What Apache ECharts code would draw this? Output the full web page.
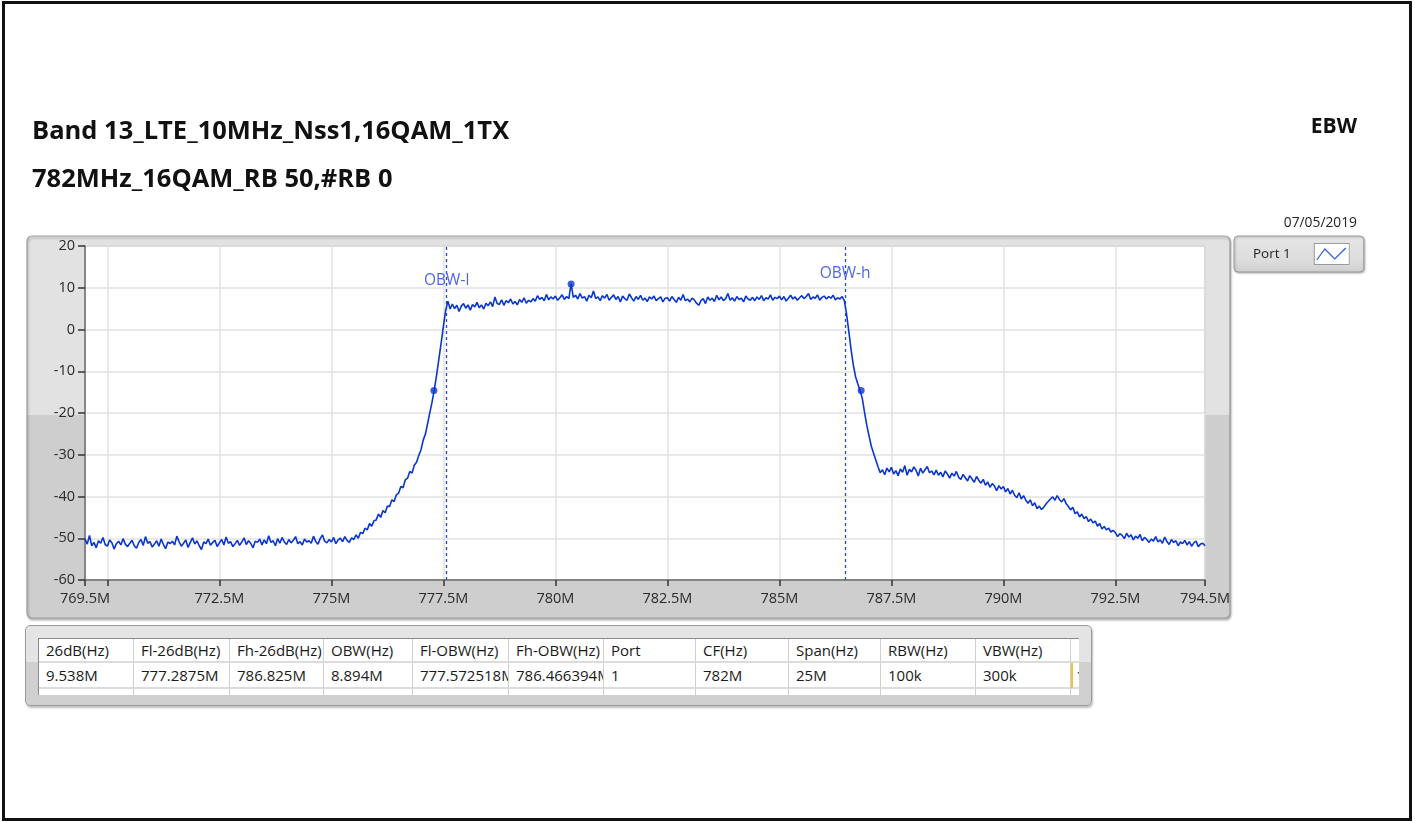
<!DOCTYPE html>
<html>
<head>
<meta charset="utf-8">
<title>EBW</title>
<script src="https://cdn.jsdelivr.net/npm/echarts@6/dist/echarts.min.js"></script>
<style>
body { margin: 0; background: #fff; font-family: "Open Sans", sans-serif; }
#main { position: absolute; left: 0; top: 0; width: 1415px; height: 822px; }
#frame { position: absolute; left: 2px; top: 1px; width: 1410px; height: 820px; box-sizing: border-box;
  border: 3px solid #111; pointer-events: none; }
#tablePanel { position: absolute; left: 25px; top: 625px; width: 1067px; height: 81px; box-sizing: border-box;
  border: 1px solid #9a9a9a; border-radius: 5px;
  background: linear-gradient(#e4e4e4 0%, #e4e4e4 45%, #d0d0d0 46%, #d0d0d0 100%);
  box-shadow: 1px 2px 2px rgba(0,0,0,0.25); }
#tableBox { position: absolute; left: 12px; top: 12px; width: 1040px; height: 56px; overflow: hidden;
  background: #fff; border-left: 1px solid #8a8a8a; border-top: 1px solid #8a8a8a; }
.cell { position: absolute; box-sizing: border-box; padding-left: 7px; white-space: nowrap; overflow: hidden;
  font-size: 15px; color: #1a1a1a; border-right: 1px solid #d0d0d0; border-bottom: 2px solid #dcdcdc; }
</style>
</head>
<body>
<div id="main"></div>
<div id="tablePanel"><div id="tableBox"></div></div>
<div id="frame"></div>
<script>
// ---------------- data ----------------
var freqStart = 769.5;   // MHz
var freqStep = 0.05;     // MHz per trace point

// trace level (dBm), one row per MHz
var trace = [
 -50.2,-51.4,-49.3,-51.8,-51.0,-52.3,-50.6,-51.2,-49.8,-51.5,-51.9,-50.4,-51.1,-52.6,-51.3,-50.7,-51.6,-50.1,-51.4,-52.0,
 -51.2,-50.5,-51.8,-52.4,-51.0,-50.3,-51.7,-49.6,-51.2,-50.8,-52.1,-51.4,-50.6,-51.9,-50.2,-51.5,-52.5,-50.9,-51.3,-50.7,
 -51.6,-49.5,-50.8,-51.9,-51.2,-50.4,-52.2,-51.0,-49.9,-51.4,-50.6,-51.8,-52.7,-50.9,-51.3,-50.2,-51.7,-51.0,-50.5,-52.0,
 -51.1,-50.3,-51.6,-49.7,-51.2,-50.8,-52.0,-51.3,-50.5,-51.7,-50.9,-49.9,-51.5,-50.6,-51.2,-52.3,-50.7,-51.0,-50.2,-51.6,
 -50.4,-51.3,-49.4,-51.0,-50.6,-51.8,-50.1,-51.2,-49.8,-50.9,-51.5,-50.3,-51.1,-50.5,-49.6,-51.3,-50.8,-51.6,-50.2,-50.9,
 -50.6,-51.2,-49.5,-50.8,-51.4,-50.1,-49.2,-50.7,-51.1,-50.3,-50.9,-49.8,-51.3,-50.4,-50.0,-50.8,-49.6,-50.5,-51.0,-49.9,
 -50.3,-49.2,-50.0,-48.6,-48.9,-47.6,-48.0,-46.5,-47.1,-45.8,-45.6,-44.2,-45.0,-43.4,-43.9,-42.3,-42.4,-40.8,-41.2,-39.6,
 -39.2,-37.6,-37.9,-36.0,-35.6,-34.0,-34.4,-32.5,-31.8,-30.2,-28.8,-26.5,-25.0,-22.4,-19.8,-17.2,-14.2,-10.8,-7.0,-3.2,
 0.8,4.5,6.8,4.9,6.1,5.0,5.8,4.3,5.6,6.2,5.1,5.9,4.6,6.0,5.4,6.5,5.2,5.9,4.9,6.3,
 5.7,6.6,5.5,7.8,6.2,6.0,7.1,5.8,6.9,6.4,7.3,6.1,6.7,5.9,7.2,6.5,7.6,6.3,7.0,6.6,
 7.4,6.8,8.1,7.2,7.7,6.9,8.4,7.1,7.8,7.3,8.0,7.0,7.6,8.3,7.2,7.9,7.4,10.9,7.7,8.2,
 7.3,8.6,7.5,7.9,6.8,8.2,7.6,9.2,7.4,7.8,6.9,8.1,7.5,8.4,7.0,7.7,8.3,7.2,7.9,6.6,
 8.0,7.4,7.0,8.5,7.6,6.8,7.9,7.2,8.2,7.0,7.5,6.7,7.8,7.3,8.0,6.9,7.4,7.8,6.6,7.5,
 7.6,6.8,7.9,7.2,6.5,7.7,7.0,8.4,6.9,7.3,6.6,7.5,7.1,6.3,5.8,6.9,7.4,6.2,7.8,7.0,
 7.5,6.7,8.2,7.1,7.8,6.9,7.4,8.6,7.0,7.6,6.8,7.9,7.2,7.5,6.6,8.0,7.3,7.0,7.7,6.9,
 7.8,7.2,8.1,6.9,7.6,7.3,8.3,7.0,7.7,7.4,8.0,7.1,7.9,6.8,7.5,8.2,7.3,7.8,7.0,7.6,
 8.1,7.4,7.9,8.6,7.2,7.8,7.5,8.3,7.0,7.7,8.0,7.3,7.9,7.5,8.2,7.1,7.6,7.3,7.9,6.9,
 3.6,-0.5,-4.8,-8.5,-11.3,-13.0,-14.6,-16.5,-19.8,-22.9,-25.4,-27.9,-29.6,-31.2,-32.8,-34.3,-33.6,-34.8,-33.2,-34.1,
 -33.0,-34.6,-33.8,-35.0,-33.4,-34.2,-32.6,-34.9,-33.5,-34.1,-32.9,-33.7,-35.1,-33.2,-34.4,-33.6,-32.8,-34.3,-33.9,-34.8,
 -33.7,-34.9,-34.2,-35.3,-33.9,-34.6,-35.6,-34.4,-35.1,-34.0,-35.4,-35.9,-34.7,-35.5,-36.3,-35.0,-35.8,-36.6,-35.2,-36.1,
 -36.8,-35.9,-37.3,-36.5,-37.8,-36.9,-37.5,-38.6,-37.4,-38.2,-37.6,-38.9,-38.1,-39.4,-38.5,-39.7,-40.3,-39.1,-40.6,-39.8,
 -40.9,-41.6,-40.8,-42.2,-41.5,-42.9,-42.3,-43.1,-42.6,-41.8,-41.2,-40.6,-40.1,-40.9,-39.8,-40.7,-41.3,-40.5,-41.7,-42.4,
 -43.2,-42.6,-44.1,-43.7,-44.9,-44.2,-45.3,-44.8,-46.0,-45.4,-46.3,-45.9,-47.1,-46.5,-47.8,-47.2,-48.0,-47.6,-48.5,-48.1,
 -48.7,-49.6,-48.9,-49.3,-50.1,-48.8,-49.7,-49.2,-50.4,-49.5,-50.0,-49.1,-50.6,-49.8,-50.3,-51.0,-50.2,-50.7,-49.6,-50.9,
 -50.4,-51.2,-49.7,-50.8,-51.5,-50.3,-51.0,-50.6,-51.8,-50.9,-51.3,-50.5,-51.6,-50.8,-51.9,-51.1,-50.7,-52.0,-51.4,-51.2,
 -51.8
];

// marker dots: peak and the two -26dB points
var markerFreqs = [777.2875, 780.35, 786.825];
var markerLevels = [-14.6, 10.9, -14.6];

// OBW edges
var obwNames = ['OBW-l', 'OBW-h'];
var obwFreqs = [777.572518, 786.466394];

// axis ticks
var xTickValues = [769.5, 770, 772.5, 775, 777.5, 780, 782.5, 785, 787.5, 790, 792.5, 794.5];
var xLabelValues = [769.5, 772.5, 775, 777.5, 780, 782.5, 785, 787.5, 790, 792.5, 794.5];

// result table
var tableHeaders = ['26dB(Hz)', 'Fl-26dB(Hz)', 'Fh-26dB(Hz)', 'OBW(Hz)', 'Fl-OBW(Hz)', 'Fh-OBW(Hz)', 'Port', 'CF(Hz)', 'Span(Hz)', 'RBW(Hz)', 'VBW(Hz)', ''];
var tableValues = ['9.538M', '777.2875M', '786.825M', '8.894M', '777.572518M', '786.466394M', '1', '782M', '25M', '100k', '300k', '1'];
var colEdges = [0, 95, 191, 285, 374, 470, 565, 657, 750, 842, 937, 1032, 1060];

// ---------------- table ----------------
var box = document.getElementById('tableBox');
var rowTops = [0, 24, 50];
var rowHeights = [24, 26, 10];
for (var r = 0; r < 3; r++) {
  for (var c = 0; c < tableHeaders.length; c++) {
    var d = document.createElement('div');
    d.className = 'cell';
    d.style.left = colEdges[c] + 'px';
    d.style.top = rowTops[r] + 'px';
    d.style.width = (colEdges[c + 1] - colEdges[c]) + 'px';
    d.style.height = rowHeights[r] + 'px';
    d.style.lineHeight = (rowHeights[r] - 2) + 'px';
    if (r == 0) d.textContent = tableHeaders[c];
    if (r == 1) d.textContent = tableValues[c];
    if (r == 1 && c == tableHeaders.length - 1) {
      d.style.borderLeft = '2px solid #f0c040';
      d.style.paddingLeft = '3px';
    }
    box.appendChild(d);
  }
}

// ---------------- chart ----------------
var chartDom = document.getElementById('main');
var myChart = echarts.init(chartDom);

var lineData = [];
for (var i = 0; i < trace.length; i++) {
  lineData.push([+(freqStart + i * freqStep).toFixed(2), trace[i]]);
}
var markerData = [];
for (var i = 0; i < markerFreqs.length; i++) markerData.push([markerFreqs[i], markerLevels[i]]);

var blue = '#0a36cf';
var fontName = '"Open Sans", "Noto Sans", sans-serif';

// legend icon: white box with a small zigzag, with some empty room on its left
var iconSvg = '<svg xmlns="http://www.w3.org/2000/svg" width="54" height="22">' +
  '<rect x="18.5" y="0.5" width="35" height="21" fill="#fff" stroke="#9a9a9a"/>' +
  '<polyline points="21,17 29,6 39,16 50,5" fill="none" stroke="#2f5be0" stroke-width="1.2"/></svg>';
var iconUrl = 'image://data:image/svg+xml;charset=utf-8,' + encodeURIComponent(iconSvg);

var option = {
  animation: false,
  backgroundColor: '#fff',
  textStyle: { fontFamily: fontName },
  title: [
    { text: 'Band 13_LTE_10MHz_Nss1,16QAM_1TX', left: 27, top: 114,
      textStyle: { fontSize: 25.5, fontWeight: 'bold', color: '#111', fontFamily: fontName } },
    { text: '782MHz_16QAM_RB 50,#RB 0', left: 27, top: 162,
      textStyle: { fontSize: 25.5, fontWeight: 'bold', color: '#111', fontFamily: fontName } },
    { text: 'EBW', right: 53, top: 112,
      textStyle: { fontSize: 21, fontWeight: 'bold', color: '#111', fontFamily: fontName } },
    { text: '07/05/2019', right: 53, top: 211,
      textStyle: { fontSize: 13.8, fontWeight: 'normal', color: '#222', fontFamily: fontName } }
  ],
  legend: {
    left: 1234, top: 236,
    orient: 'vertical',
    align: 'right',
    padding: [7, 14, 7, 19],
    itemWidth: 54, itemHeight: 22,
    data: [{ name: 'Port 1', icon: iconUrl }],
    textStyle: { fontSize: 13.5, color: '#222', fontFamily: fontName },
    backgroundColor: { type: 'linear', x: 0, y: 0, x2: 0, y2: 1,
      colorStops: [{ offset: 0, color: '#e6e6e6' }, { offset: 0.7, color: '#dcdcdc' }, { offset: 1, color: '#cfcfcf' }] },
    borderColor: '#9a9a9a', borderWidth: 1, borderRadius: 4,
    shadowColor: 'rgba(0,0,0,0.25)', shadowBlur: 2, shadowOffsetX: 1, shadowOffsetY: 1
  },
  graphic: [
    { type: 'rect', z: -10, silent: true,
      shape: { x: 27, y: 236, width: 1203, height: 382, r: 5 },
      style: {
        fill: { type: 'linear', x: 0, y: 0, x2: 0, y2: 1,
          colorStops: [{ offset: 0, color: '#e2e2e2' }, { offset: 0.468, color: '#e2e2e2' },
                       { offset: 0.47, color: '#cecece' }, { offset: 1, color: '#cecece' }] },
        stroke: '#9c9c9c', lineWidth: 1.2,
        shadowColor: 'rgba(0,0,0,0.25)', shadowBlur: 2, shadowOffsetX: 1, shadowOffsetY: 2
      } }
  ],
  grid: {
    left: 85, right: 210, top: 246, bottom: 242,
    show: true, backgroundColor: '#fff', borderColor: '#9a9a9a', borderWidth: 1,
    outerBoundsMode: 'none'
  },
  xAxis: {
    type: 'value',
    min: 769.5, max: 794.5,
    axisLine: { show: true, onZero: false, lineStyle: { color: '#6a6a6a', width: 1.5 } },
    axisTick: { show: true, length: 6, customValues: xTickValues, lineStyle: { color: '#333', width: 1.5 } },
    axisLabel: { customValues: xLabelValues, color: '#2a2a2a', fontSize: 14.5, margin: 11,
      formatter: function (v) { return v + 'M'; } },
    splitLine: { show: true, lineStyle: { color: '#e2e2e2', width: 1.5 } }
  },
  yAxis: {
    type: 'value',
    min: -60, max: 20, interval: 10,
    axisLine: { show: true, onZero: false, lineStyle: { color: '#6a6a6a', width: 1.5 } },
    axisTick: { show: true, length: 7, lineStyle: { color: '#333', width: 1.5 } },
    axisLabel: { color: '#2a2a2a', fontSize: 14.5, margin: 10 },
    splitLine: { show: true, lineStyle: { color: '#e2e2e2', width: 1.5 } }
  },
  series: [
    {
      name: 'Port 1',
      type: 'line',
      data: lineData,
      showSymbol: false,
      color: blue,
      lineStyle: { color: blue, width: 1.6 },
      markLine: {
        silent: true,
        symbol: 'none',
        label: { show: false },
        lineStyle: { color: '#1d4ad8', type: [3, 3], width: 1.3 },
        data: [{ xAxis: obwFreqs[0] }, { xAxis: obwFreqs[1] }]
      },
      markPoint: {
        silent: true,
        symbol: 'circle',
        symbolSize: 0,
        label: { show: true, position: 'inside', color: '#4f66e6', fontSize: 15.5, fontFamily: fontName,
          formatter: function (p) { return p.name; } },
        data: [
          { name: obwNames[0], coord: [obwFreqs[0], 11.8] },
          { name: obwNames[1], coord: [obwFreqs[1], 13.3] }
        ]
      },
      z: 3
    },
    {
      name: 'markers',
      type: 'scatter',
      data: markerData,
      symbol: 'circle',
      symbolSize: 7,
      itemStyle: { color: blue },
      z: 4
    }
  ]
};
option && myChart.setOption(option);
</script>
</body>
</html>
